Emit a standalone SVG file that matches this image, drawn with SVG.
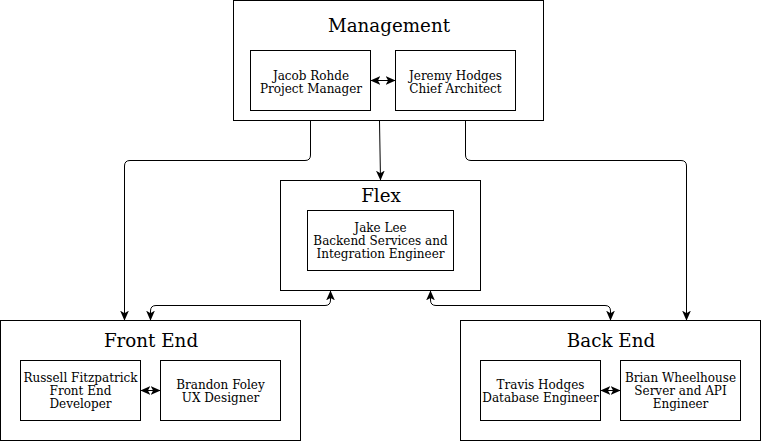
<svg xmlns="http://www.w3.org/2000/svg" width="761" height="441" viewBox="0 0 761 441">
<style>
rect{fill:#fff;stroke:#000;stroke-width:1}
text{font-family:"DejaVu Serif",serif;fill:#000;text-anchor:middle}
.t{font-size:18.3px}
.s{font-size:12px}
.c{fill:none;stroke:#000;stroke-width:1}
</style>
<defs>
<marker id="a" markerUnits="userSpaceOnUse" markerWidth="10" markerHeight="10" viewBox="0 0 8 7" refX="7.5" refY="3.5" orient="auto-start-reverse">
<path d="M0,0 L8,3.5 L0,7 L2,3.5 z" fill="#000"/>
</marker>
</defs>
<rect width="761" height="441" style="fill:#fff;stroke:none"/>
<g id="management">
<rect x="233.5" y="0.5" width="310" height="120"/>
<text class="t" x="389" y="32">Management</text>
</g>
<g id="jacob">
<rect x="250.5" y="50.5" width="120" height="60"/>
<text class="s" x="311" y="80">Jacob Rohde</text>
<text class="s" x="311" y="93">Project Manager</text>
</g>
<g id="jeremy">
<rect x="395.5" y="50.5" width="120" height="60"/>
<text class="s" x="455.5" y="80">Jeremy Hodges</text>
<text class="s" x="455.5" y="93">Chief Architect</text>
</g>
<g id="flex">
<rect x="280.5" y="180.5" width="200" height="110"/>
<text class="t" x="381" y="202">Flex</text>
</g>
<g id="jake">
<rect x="307.5" y="210.5" width="146" height="60"/>
<text class="s" x="380.5" y="232">Jake Lee</text>
<text class="s" x="380.5" y="245">Backend Services and</text>
<text class="s" x="380.5" y="258">Integration Engineer</text>
</g>
<g id="frontend">
<rect x="0.5" y="320.5" width="300" height="120"/>
<text class="t" x="151" y="347">Front End</text>
</g>
<g id="russell">
<rect x="20.5" y="360.5" width="120" height="60"/>
<text class="s" x="80.5" y="382">Russell Fitzpatrick</text>
<text class="s" x="80.5" y="395">Front End</text>
<text class="s" x="80.5" y="408">Developer</text>
</g>
<g id="brandon">
<rect x="160.5" y="360.5" width="120" height="60"/>
<text class="s" x="220.5" y="389">Brandon Foley</text>
<text class="s" x="220.5" y="402">UX Designer</text>
</g>
<g id="backend">
<rect x="460.5" y="320.5" width="300" height="120"/>
<text class="t" x="611" y="347">Back End</text>
</g>
<g id="travis">
<rect x="480.5" y="360.5" width="120" height="60"/>
<text class="s" x="540.5" y="389">Travis Hodges</text>
<text class="s" x="540.5" y="402">Database Engineer</text>
</g>
<g id="brian">
<rect x="620.5" y="360.5" width="120" height="60"/>
<text class="s" x="680.5" y="382">Brian Wheelhouse</text>
<text class="s" x="680.5" y="395">Server and API</text>
<text class="s" x="680.5" y="408">Engineer</text>
</g>
<g id="connectors">
<path class="c" d="M310.5,121 V155 Q310.5,160.5 305,160.5 H130 Q124.5,160.5 124.5,166 V320" marker-end="url(#a)"/>
<path class="c" d="M379.5,121 L380.5,180" marker-end="url(#a)"/>
<path class="c" d="M465.5,121 V155 Q465.5,160.5 471,160.5 H681 Q686.5,160.5 686.5,166 V320" marker-end="url(#a)"/>
<path class="c" d="M330.5,291 V300 Q330.5,305.5 325,305.5 H156 Q150.5,305.5 150.5,311 V320" marker-start="url(#a)" marker-end="url(#a)"/>
<path class="c" d="M430.5,291 V300 Q430.5,305.5 436,305.5 H605 Q610.5,305.5 610.5,311 V320" marker-start="url(#a)" marker-end="url(#a)"/>
<path class="c" d="M371,80.5 H395" marker-start="url(#a)" marker-end="url(#a)"/>
<path class="c" d="M141,390.5 H160" marker-start="url(#a)" marker-end="url(#a)"/>
<path class="c" d="M601,390.5 H620" marker-start="url(#a)" marker-end="url(#a)"/>
</g>
</svg>
